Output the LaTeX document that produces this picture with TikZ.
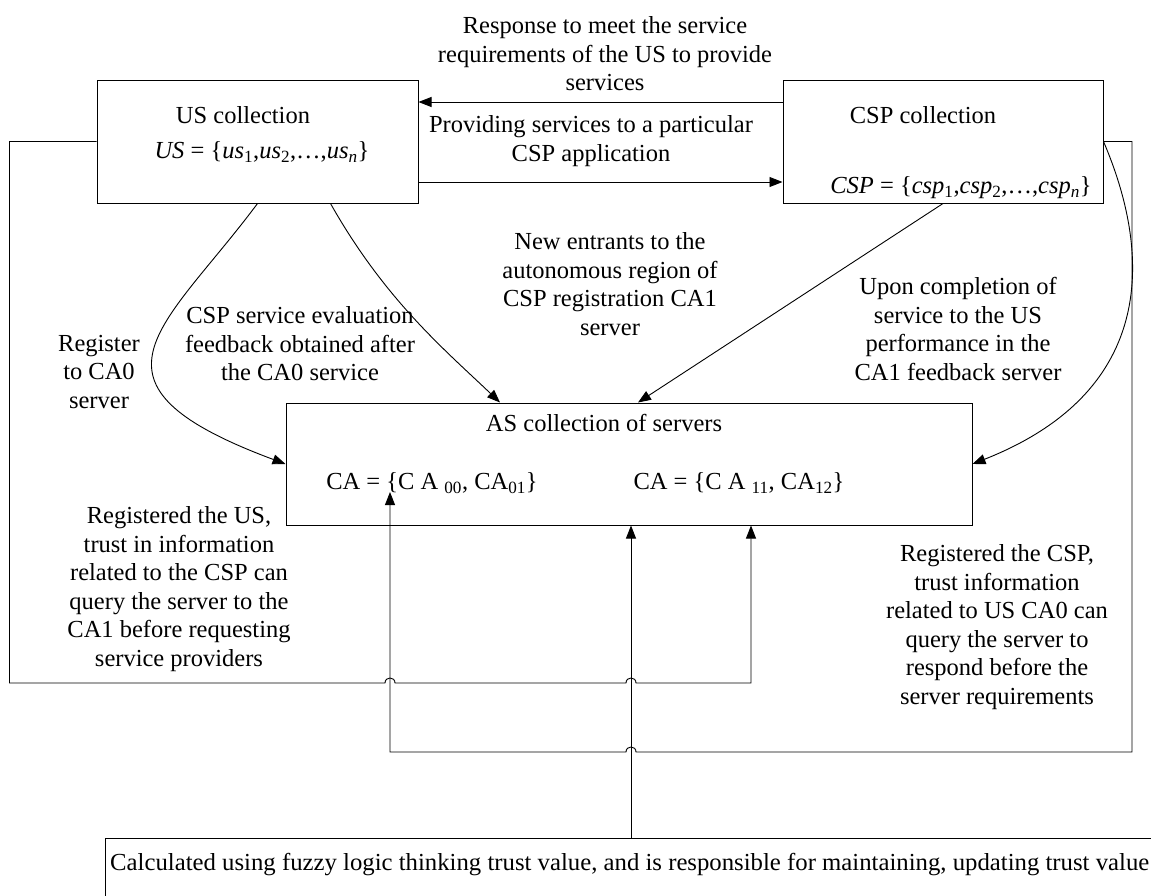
\documentclass[tikz,border=0pt]{standalone}
\usepackage{fontspec}
\setmainfont{Liberation Serif}
\usetikzlibrary{arrows.meta}
\begin{document}
\begin{tikzpicture}[x=1pt,y=-1pt,
  box/.style={draw, line width=1pt, inner sep=0pt},
  txt/.style={inner sep=0pt, align=center, font=\fontsize{24.5}{28.5}\selectfont},
  conn/.style={line width=0.9pt},
  arr/.style={conn, -{Triangle[length=13pt,width=10pt]}}]
\clip (0,0) rectangle (1151,895);
\fill[white] (0,0) rectangle (1151,895);
% boxes
\node[box, minimum width=321pt, minimum height=123pt] (us) at (257.5,141.5) {};
\node[box, minimum width=320pt, minimum height=123pt] (csp) at (943,141.5) {};
\node[box, minimum width=686pt, minimum height=122pt] (as) at (629,464) {};
\node[box, anchor=north west, minimum width=1100pt, minimum height=120pt] (fz) at (105,838) {};
% box texts
\node[txt] (ust) at (243,115) {US collection};
\node[txt] (usf) at (262,152) {\textit{US} = \{\textit{us}\textsubscript{1},\textit{us}\textsubscript{2},\ldots,\textit{us}\textsubscript{\textit{n}}\}};
\node[txt] (cspt) at (923,115) {CSP collection};
\node[txt] (cspf) at (961,188) {\textit{CSP} = \{\textit{csp}\textsubscript{1},\textit{csp}\textsubscript{2},\ldots,\textit{csp}\textsubscript{\textit{n}}\}};
\node[txt] (ast) at (604,423) {AS collection of servers};
\node[txt] (ca0) at (432,483) {CA = \{C A \textsubscript{00}, CA\textsubscript{01}\}};
\node[txt] (ca1) at (739,483) {CA = \{C A \textsubscript{11}, CA\textsubscript{12}\}};
\node[txt, anchor=west] (fzt) at (110,865) {\resizebox{1039pt}{\height}{Calculated using fuzzy logic thinking trust value, and is responsible for maintaining, updating trust value}};
% labels
\node[txt] (l1) at (605,54) {Response to meet the service\\requirements of the US to provide\\services};
\node[txt] (l2) at (591,141) {Providing services to a particular\\CSP application};
\node[txt] (l3) at (610,284) {New entrants to the\\autonomous region of\\CSP registration CA1\\server};
\node[txt] (l4) at (99,372) {Register\\to CA0\\server};
\node[txt] (l5) at (300,344) {CSP service evaluation\\feedback obtained after\\the CA0 service};
\node[txt] (l6) at (958,329) {Upon completion of\\service to the US\\performance in the\\CA1 feedback server};
\node[txt] (l7) at (179,589) {Registered the US,\\trust in information\\related to the CSP can\\query the server to the\\CA1 before requesting\\service providers};
\node[txt] (l8) at (997,627) {Registered the CSP,\\trust information\\related to US CA0 can\\query the server to\\respond before the\\server requirements};
% waypoints
\coordinate (lA) at (9.5,141.5);
\coordinate (lB) at (9.5,683);
\coordinate (lC) at (751,683);
\coordinate (rA) at (1132,141.5);
\coordinate (rB) at (1132,752);
\coordinate (rC) at (390,752);
\coordinate (t0) at (390,492);
% top connectors
\draw[arr] ([yshift=39.5pt]csp.west) -- ([yshift=39.5pt]us.east);
\draw[arr] ([yshift=-40.5pt]us.east) -- ([yshift=-40.5pt]csp.west);
% curves to AS
\draw[arr] (us.south) .. controls (164,329) and (68,383) .. (as.west);
\draw[arr] ([xshift=73pt]us.south) .. controls (385,300) and (445,350) .. ([xshift=-129pt]as.north);
\draw[arr] (csp.south) -- ([xshift=9pt]as.north);
\draw[arr] (csp.east) .. controls (1150,250) and (1160,390) .. (as.east);
% left loop (US queries CA1)
\draw[arr] (us.west) -- (lA) -- (lB) -- (385,683) .. controls (385,676.3) and (395,676.3) .. (395,683)
  -- (626,683) .. controls (626,676.3) and (636,676.3) .. (636,683) -- (lC) -- (as.south -| lC);
% right loop (CSP queries CA0)
\draw[arr] (csp.east) -- (rA) -- (rB) -- (636,752) .. controls (636,745.3) and (626,745.3) .. (626,752)
  -- (rC) -- (t0);
% fuzzy module to AS
\draw[arr] (fz.north -| 631,0) -- (as.south -| 631,0);
\end{tikzpicture}
\end{document}
